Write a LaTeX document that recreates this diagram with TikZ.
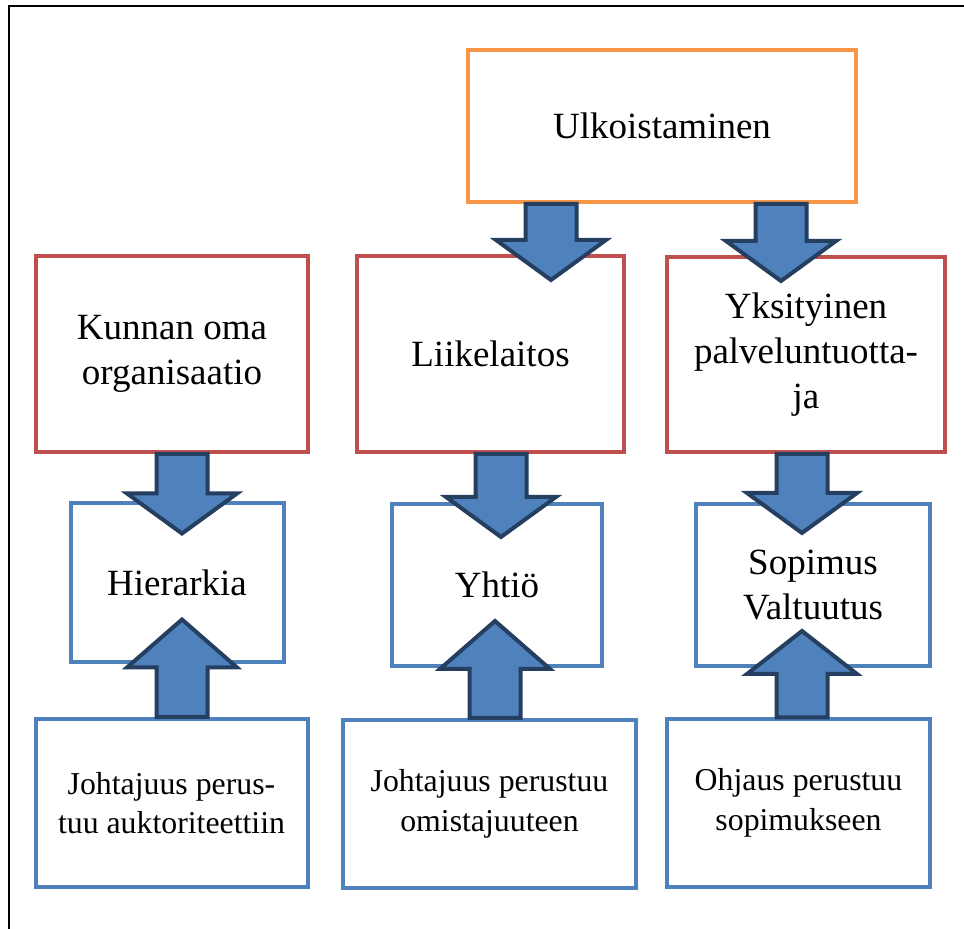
\documentclass[tikz,border=0pt]{standalone}
\usepackage{fontspec}
\setmainfont{Liberation Serif}
\usepackage{tikz}
\usetikzlibrary{calc, positioning}
\usepackage{xcolor}
\definecolor{boxorange}{HTML}{F79646}
\definecolor{boxred}{HTML}{C0504D}
\definecolor{boxblue}{HTML}{4F81BD}
\definecolor{arrowfill}{HTML}{4F81BD}
\definecolor{arrowedge}{HTML}{243F60}
\newcommand{\bigtxt}{\fontsize{18.5}{22.5}\selectfont}
\newcommand{\smalltxt}{\fontsize{15.9}{19.8}\selectfont}
\tikzstyle{orangebox} = [rectangle, draw=boxorange, line width=2pt, inner sep=0pt, align=center, font=\bigtxt]
\tikzstyle{redbox} = [rectangle, draw=boxred, line width=2pt, inner sep=0pt, align=center, font=\bigtxt]
\tikzstyle{bluebox} = [rectangle, draw=boxblue, line width=2pt, inner sep=0pt, align=center, font=\bigtxt]
\tikzstyle{basebox} = [bluebox, font=\smalltxt]
\tikzstyle{blockarrow} = [fill=arrowfill, draw=arrowedge, line width=2pt, line join=miter]
% block arrow: [head length]{tail}{tip}
\newcommand{\barrow}[3][20pt]{%
  \path (#2) coordinate (s);
  \path (#3) coordinate (t);
  \path ($(t)!#1!(s)$) coordinate (h);
  \draw[blockarrow] ($(s)+(-25.5,0)$) -- ($(h)+(-25.5,0)$) -- ($(h)+(-55,0)$) -- (t)
    -- ($(h)+(55,0)$) -- ($(h)+(25.5,0)$) -- ($(s)+(25.5,0)$) -- cycle;}

\begin{document}
\begin{tikzpicture}[x=0.5pt, y=-0.5pt]
\useasboundingbox (0,0) rectangle (964,929);

% Frame
\draw[line width=1pt] (9,929) -- (9,6) -- (964,6);

% Nodes
\node (ulko) [orangebox, minimum width=194pt, minimum height=76pt] at (662,126) {Ulkoistaminen};
\node (kunta) [redbox, minimum width=136pt, minimum height=98pt] at (172,354) {Kunnan oma\\organisaatio};
\node (liike) [redbox, minimum width=133.5pt, minimum height=98pt] at (490.5,354) {Liikelaitos};
\node (yksit) [redbox, minimum width=139pt, minimum height=97.5pt] at (806,354.5) {Yksityinen\\palveluntuotta-\\ja};
\node (hier) [bluebox, minimum width=106.5pt, minimum height=79.5pt] at (177,583) {Hierarkia};
\node (yhtio) [bluebox, minimum width=105pt, minimum height=81pt] at (497,585) {Yhtiö};
\node (sopim) [bluebox, minimum width=117pt, minimum height=81pt] at (813,585) {Sopimus\\Valtuutus};
\node (johto1) [basebox, minimum width=136pt, minimum height=84pt] at (171.5,803) {Johtajuus perus-\\tuu auktoriteettiin};
\node (johto2) [basebox, minimum width=146.5pt, minimum height=84pt] at (489.5,804) {Johtajuus perustuu\\omistajuuteen};
\node (ohjaus) [basebox, minimum width=131.5pt, minimum height=83.5pt] at (798.5,803) {Ohjaus perustuu\\sopimukseen};

% Arrows
\barrow{$(ulko.south)+(-111,0)$}{$(s |- liike.north)+(0,26)$}
\barrow{$(ulko.south)+(119,0)$}{$(s |- yksit.north)+(0,26)$}
\barrow{$(kunta.south)+(10,0)$}{$(s |- hier.north)+(0,32)$}
\barrow{$(liike.south)+(10.5,0)$}{$(s |- yhtio.north)+(0,35)$}
\barrow{$(yksit.south)+(-4,0)$}{$(s |- sopim.north)+(0,31)$}
\barrow[24pt]{$(johto1.north)+(10.5,0)$}{$(s |- hier.south)+(0,-45)$}
\barrow[24pt]{$(johto2.north)+(5.5,0)$}{$(s |- yhtio.south)+(0,-47)$}
\barrow[21.5pt]{$(ohjaus.north)+(3.5,0)$}{$(s |- sopim.south)+(0,-37)$}

\end{tikzpicture}
\end{document}
